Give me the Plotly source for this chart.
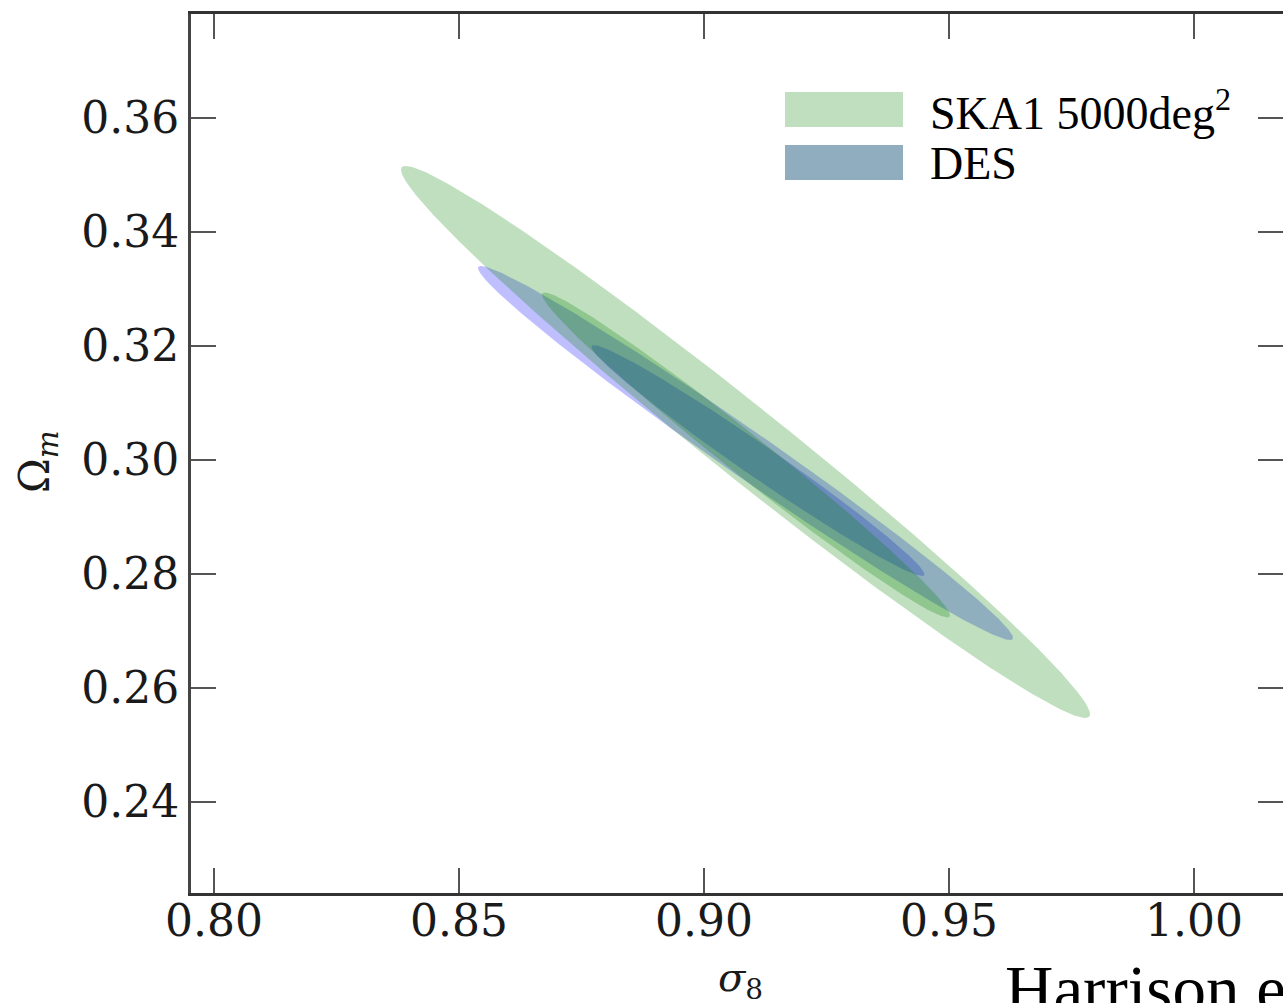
import numpy as np
import plotly.graph_objects as go

# ---- data ----
contour_names = ["DES 2σ", "DES 1σ", "SKA1 2σ", "SKA1 1σ"]
contour_survey = ["DES", "DES", "SKA", "SKA"]
center_sigma8 = [0.90847, 0.91101, 0.90847, 0.90857]
center_omegam = [0.30123, 0.29991, 0.30316, 0.30088]
halfwidth_sigma8 = [0.05459, 0.03398, 0.07031, 0.04163]
halfwidth_omegam = [0.03281, 0.02026, 0.04842, 0.02851]
correlation = [-0.9887, -0.9855, -0.9860, -0.9871]

x_tick_vals = [0.80, 0.85, 0.90, 0.95, 1.00]
x_tick_text = ["0.80", "0.85", "0.90", "0.95", "1.00"]
y_tick_vals = [0.24, 0.26, 0.28, 0.30, 0.32, 0.34, 0.36]
y_tick_text = ["0.24", "0.26", "0.28", "0.30", "0.32", "0.34", "0.36"]

legend_labels = ["SKA1 5000deg<sup>2</sup>", "DES"]

# ---- styles ----
fill_colors = {"DES": "rgba(0,0,255,0.25)", "SKA": "rgba(0,128,0,0.25)"}
legend_colors = ["#bfdfbf", "#8fadbf"]

W, H = 1283, 1003
L, T, B = 191, 14, 893
R = 1283

fig = go.Figure()
t = np.linspace(0, 2 * np.pi, 600)
for name, s, cx, cy, ax, ay, rho in zip(contour_names, contour_survey, center_sigma8,
                                         center_omegam, halfwidth_sigma8,
                                         halfwidth_omegam, correlation):
    xs = cx + ax * np.cos(t)
    ys = cy + ay * (rho * np.cos(t) + np.sqrt(1 - rho ** 2) * np.sin(t))
    fig.add_trace(go.Scatter(x=xs, y=ys, mode="lines", fill="toself",
                             fillcolor=fill_colors[s], line=dict(width=0, color="rgba(0,0,0,0)"),
                             name=name, showlegend=False, hoverinfo="skip"))

# invisible trace for the right-hand tick axis
fig.add_trace(go.Scatter(x=[None], y=[None], yaxis="y2", showlegend=False, hoverinfo="skip"))

px_per_x = 4900.0
px_per_y = 5700.0
x0 = 0.80 - (214 - L) / px_per_x
x1 = x0 + (R - L) / px_per_x
y1 = 0.36 + (118 - T) / px_per_y
y0 = y1 - (B - T) / px_per_y

tickfont = dict(family="DejaVu Serif", size=44, color="#1a1a1a")
common = dict(ticks="inside", ticklen=25, tickwidth=2, tickcolor="#555555",
              showgrid=False, zeroline=False, tickfont=tickfont)

fig.update_layout(
    width=W, height=H,
    margin=dict(l=L, r=W - R, t=T, b=H - B, pad=0),
    paper_bgcolor="white", plot_bgcolor="white",
    showlegend=False,
    xaxis=dict(range=[x0, x1], tickvals=x_tick_vals, ticktext=x_tick_text,
               showline=True, linecolor="#333333", linewidth=2.5, mirror="ticks",
               ticklabelstandoff=-13, **common),
    yaxis=dict(range=[y0, y1], tickvals=y_tick_vals, ticktext=y_tick_text,
               showline=True, linecolor="#444444", linewidth=3, mirror=False,
               ticklabelstandoff=0, **common),
    yaxis2=dict(range=[y0, y1], tickvals=y_tick_vals, overlaying="y", side="right",
                showticklabels=False, showline=False, anchor="x", **common),
)

# axis titles
fig.add_annotation(text="<i>σ</i><sub>8</sub>", xref="paper", yref="paper",
                   x=(740 - L) / (R - L), y=(B - 980) / (B - T), showarrow=False,
                   font=dict(family="DejaVu Serif", size=40, color="#1a1a1a"),
                   xanchor="center", yanchor="middle")
fig.add_annotation(text="Ω<sub><i>m</i></sub>", xref="paper", yref="paper",
                   x=(38 - L) / (R - L), y=(B - 462) / (B - T), showarrow=False,
                   textangle=-90,
                   font=dict(family="DejaVu Serif", size=42, color="#1a1a1a"),
                   xanchor="center", yanchor="middle")

# manual legend
def px2paper(px, py):
    return (px - L) / (R - L), (B - py) / (B - T)

patch_y = [(92, 127), (145, 180)]
text_y = [110, 163]
for lab, col, (pt, pb), ty in zip(legend_labels, legend_colors, patch_y, text_y):
    xa, ya = px2paper(785, pb)
    xb, yb = px2paper(903, pt)
    fig.add_shape(type="rect", xref="paper", yref="paper", x0=xa, y0=ya, x1=xb, y1=yb,
                  fillcolor=col, line=dict(width=0), layer="above")
    tx, tyy = px2paper(928, ty)
    fig.add_annotation(text=lab, xref="paper", yref="paper", x=tx, y=tyy,
                       showarrow=False, xanchor="left", yanchor="middle",
                       font=dict(family="Liberation Serif", size=46, color="black"))

# citation text partly cut off at the bottom right
hx, hy = px2paper(1003, 950)
fig.add_annotation(text="Harrison et al.", xref="paper", yref="paper", x=hx, y=hy,
                   showarrow=False, xanchor="left", yanchor="top",
                   font=dict(family="Liberation Serif", size=67, color="black"))

fig.write_html("out.html")
